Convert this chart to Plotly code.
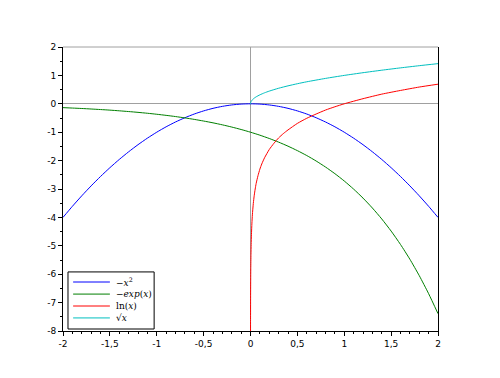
import plotly.graph_objects as go

# Data
x_par = [-2.0, -1.9, -1.8, -1.7, -1.6, -1.5, -1.4, -1.3, -1.2, -1.1, -1.0, -0.9, -0.8, -0.7, -0.6, -0.5, -0.4, -0.3, -0.2, -0.1,
         0.0, 0.1, 0.2, 0.3, 0.4, 0.5, 0.6, 0.7, 0.8, 0.9, 1.0, 1.1, 1.2, 1.3, 1.4, 1.5, 1.6, 1.7, 1.8, 1.9, 2.0]
y_negsq = [-4.0, -3.61, -3.24, -2.89, -2.56, -2.25, -1.96, -1.69, -1.44, -1.21, -1.0, -0.81, -0.64, -0.49, -0.36, -0.25, -0.16, -0.09, -0.04, -0.01,
           0.0, -0.01, -0.04, -0.09, -0.16, -0.25, -0.36, -0.49, -0.64, -0.81, -1.0, -1.21, -1.44, -1.69, -1.96, -2.25, -2.56, -2.89, -3.24, -3.61, -4.0]
y_negexp = [-0.135, -0.150, -0.165, -0.183, -0.202, -0.223, -0.247, -0.273, -0.301, -0.333, -0.368, -0.407, -0.449, -0.497, -0.549, -0.607, -0.670, -0.741, -0.819, -0.905,
            -1.0, -1.105, -1.221, -1.350, -1.492, -1.649, -1.822, -2.014, -2.226, -2.460, -2.718, -3.004, -3.320, -3.669, -4.055, -4.482, -4.953, -5.474, -6.050, -6.686, -7.389]

x_ln = [0.0003, 0.0005, 0.001, 0.002, 0.003, 0.005, 0.007, 0.01, 0.015, 0.02, 0.03, 0.04, 0.05, 0.06, 0.08, 0.1, 0.12, 0.15, 0.2, 0.25,
        0.3, 0.35, 0.4, 0.5, 0.6, 0.7, 0.8, 0.9, 1.0, 1.2, 1.4, 1.6, 1.8, 2.0]
y_ln = [-8.11, -7.60, -6.91, -6.21, -5.81, -5.30, -4.96, -4.61, -4.20, -3.91, -3.51, -3.22, -3.00, -2.81, -2.53, -2.30, -2.12, -1.90, -1.61, -1.39,
        -1.20, -1.05, -0.92, -0.69, -0.51, -0.36, -0.22, -0.105, 0.0, 0.18, 0.34, 0.47, 0.59, 0.69]

x_sqrt = [0.0, 0.002, 0.005, 0.01, 0.02, 0.04, 0.06, 0.1, 0.15, 0.2, 0.3, 0.4, 0.5, 0.6, 0.8, 1.0, 1.2, 1.4, 1.6, 1.8, 2.0]
y_sqrt = [0.0, 0.045, 0.071, 0.1, 0.141, 0.2, 0.245, 0.316, 0.387, 0.447, 0.548, 0.632, 0.707, 0.775, 0.894, 1.0, 1.095, 1.183, 1.265, 1.342, 1.414]

x_tickvals = [-2, -1.5, -1, -0.5, 0, 0.5, 1, 1.5, 2]
x_ticktext = ["-2", "-1,5", "-1", "-0,5", "0", "0,5", "1", "1,5", "2"]
y_tickvals = [-8, -7, -6, -5, -4, -3, -2, -1, 0, 1, 2]
y_ticktext = ["-8", "-7", "-6", "-5", "-4", "-3", "-2", "-1", "0", "1", "2"]

names = ["\u2212<i>x</i><sup>2</sup>", "\u2212<i>exp</i>(<i>x</i>)", "ln(<i>x</i>)", "\u221a<i>x</i>"]
colors = ["#0000ff", "#007f00", "#ff0000", "#00bfbf"]

fig = go.Figure()
series = [(x_par, y_negsq), (x_par, y_negexp), (x_ln, y_ln), (x_sqrt, y_sqrt)]
for (xs, ys), nm, c in zip(series, names, colors):
    fig.add_trace(go.Scatter(x=xs, y=ys, mode="lines", name=nm, showlegend=False,
                             line=dict(color=c, width=1, shape="spline", smoothing=0.6)))

# compact legend box (drawn in paper coordinates)
fig.add_shape(type="rect", xref="paper", yref="paper", x0=0.0133, x1=0.243, y0=0.007, y1=0.208,
              line=dict(color="#000000", width=1), fillcolor="white", layer="above")
row_y = [0.1725, 0.130, 0.088, 0.046]
for ry, nm, c in zip(row_y, names, colors):
    fig.add_shape(type="line", xref="paper", yref="paper", x0=0.027, x1=0.125, y0=ry, y1=ry,
                  line=dict(color=c, width=1), layer="above")
    fig.add_annotation(xref="paper", yref="paper", x=0.136, y=ry, text=nm, showarrow=False,
                       xanchor="left", yanchor="middle",
                       font=dict(family="DejaVu Serif", size=9, color="#000000"))

axis_font = dict(family="DejaVu Sans", size=9, color="#000000")
fig.update_layout(
    width=500, height=378,
    margin=dict(l=55, r=70, t=39, b=55),
    paper_bgcolor="white", plot_bgcolor="white",
    showlegend=False,
    xaxis=dict(range=[-2, 2], tickvals=x_tickvals, ticktext=x_ticktext,
               showgrid=False, zeroline=True, zerolinecolor="#a0a0a0", zerolinewidth=1,
               showline=True, linecolor="#000000", linewidth=1, mirror=False,
               ticks="outside", ticklen=4, tickcolor="#000000", tickfont=axis_font,
               minor=dict(dtick=0.1, tick0=0, ticks="outside", ticklen=2, tickcolor="#000000")),
    yaxis=dict(range=[-8, 2], tickvals=y_tickvals, ticktext=y_ticktext,
               showgrid=False, zeroline=True, zerolinecolor="#a0a0a0", zerolinewidth=1,
               showline=True, linecolor="#000000", linewidth=1, mirror=True,
               ticks="outside", ticklen=4, tickcolor="#000000", tickfont=axis_font,
               minor=dict(dtick=0.5, tick0=0, ticks="outside", ticklen=2, tickcolor="#000000")),
)
# grey top frame edge
fig.add_shape(type="line", xref="paper", yref="paper", x0=0, x1=1, y0=1, y1=1,
              line=dict(color="#a0a0a0", width=1))

fig.write_html("out.html")
